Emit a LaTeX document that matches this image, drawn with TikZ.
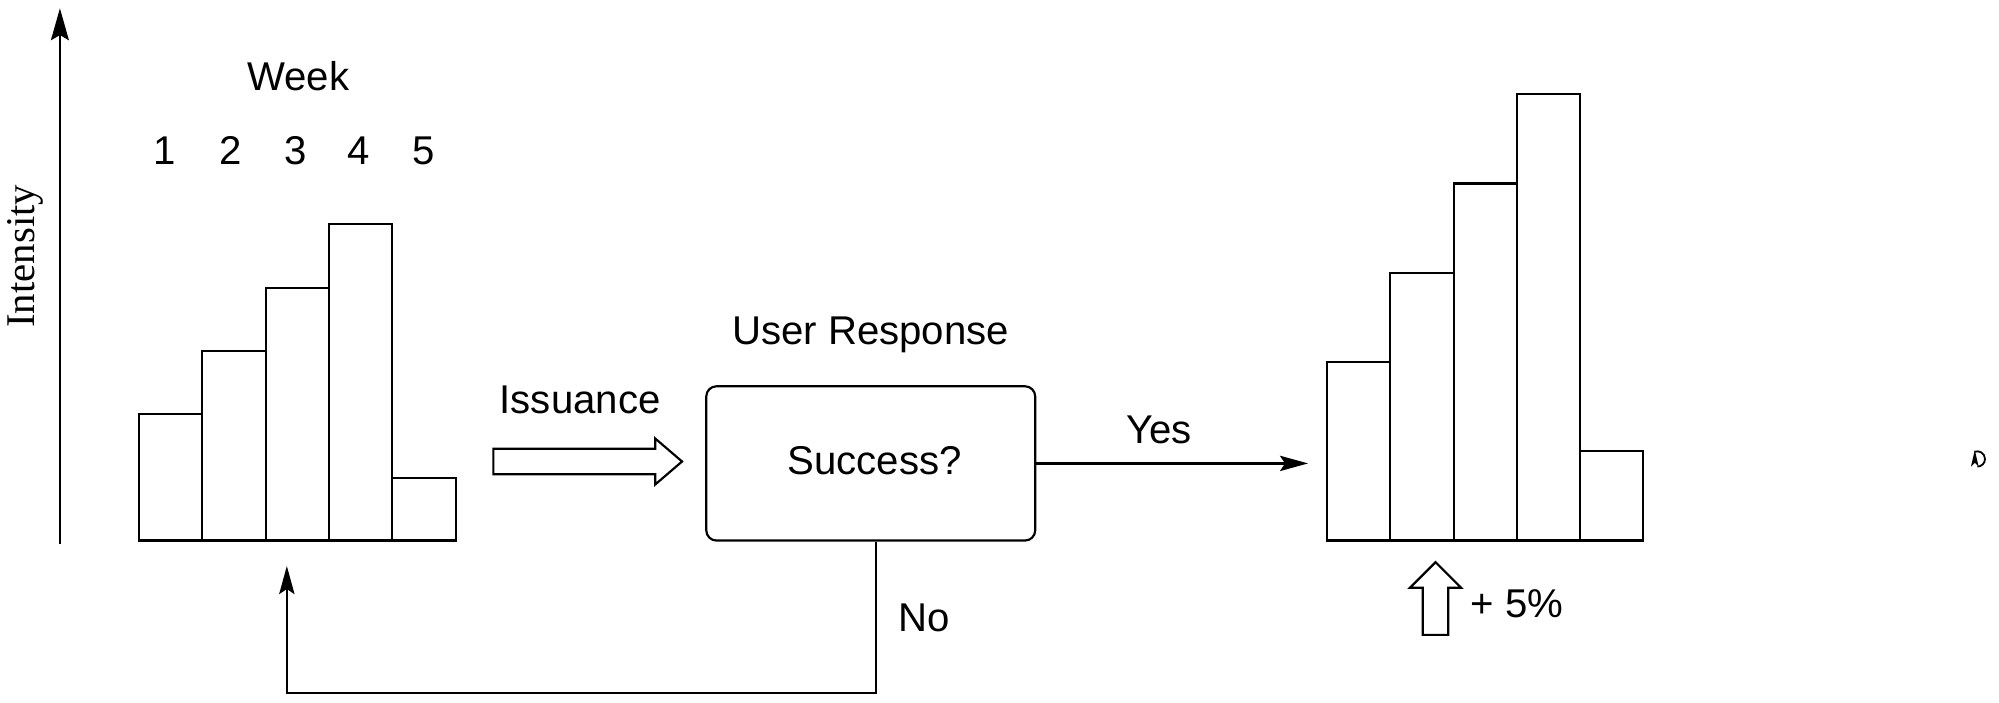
\documentclass[tikz,border=0pt]{standalone}
\usepackage{fontspec}
\setmainfont{Liberation Sans}
\newfontfamily\tnr{Liberation Serif}
\usetikzlibrary{arrows.meta}
\begin{document}
\begin{tikzpicture}[x=1pt,y=-1pt, line width=1.7pt, line join=miter,
  lbl/.style={inner sep=0pt, text height=22.5pt, text depth=0pt, font=\fontsize{31.5}{36}\selectfont},
  bar/.style={draw, line width=1.7pt},
  tip/.style={-{Stealth[length=22pt,width=12pt,inset=4pt]}},
  hollow/.style={draw, line width=1.7pt, fill=white},
  decision/.style={draw, rounded corners=8pt, minimum width=258pt, minimum height=121pt, inner sep=0pt, line width=1.7pt}]
\useasboundingbox (0,0) rectangle (1568,551);

% axis
\coordinate (ax0) at (47,427);
\coordinate (ax1) at (47,6.5);
\draw[line width=2pt, -{Stealth[length=25pt,width=14pt,inset=4pt]}] (ax0) -- (ax1);
\node[rotate=90, inner sep=0pt, font=\tnr\fontsize{32}{36}\selectfont] (intensity) at (20,201) {Intensity};

% left histogram
\foreach \i/\h in {0/325,1/275,2/226,3/176,4/375}
  \draw[bar] ({109+49.7*\i},424) rectangle ({109+49.7*(\i+1)},\h);
\node[lbl] (week) at (234,60) {Week};
\foreach \i/\x in {1/129,2/181,3/232,4/281,5/332}
  \node[lbl] (n\i) at (\x,118) {\i};

% issuance
\node[lbl] (issuance) at (455,313) {Issuance};
\draw[hollow] (387,352) -- (514,352) -- (514,344) -- (535,362) -- (514,380) -- (514,372) -- (387,372) -- cycle;

% decision box
\node[decision] (box) at (683,363.5) {};
\node[lbl] (success) at (686,361) {Success?};
\node[lbl] (user) at (683,259) {User Response};

% yes
\coordinate (yesend) at (1026,363.5);
\draw[tip] (box.east) -- (yesend);
\node[lbl] (yes) at (909,337) {Yes};

% no
\coordinate (noend) at (225,444);
\draw[tip] ([xshift=4pt]box.south) -- ++(0,119) -| (noend);
\node[lbl] (no) at (725,484) {No};

% right histogram
\foreach \i/\h in {0/284,1/214,2/144,3/74,4/354}
  \draw[bar] ({1041+49.6*\i},424) rectangle ({1041+49.6*(\i+1)},\h);

% up arrow
\draw[hollow] (1116,498) -- (1116,461) -- (1106,461) -- (1126,441) -- (1146,461) -- (1136,461) -- (1136,498) -- cycle;
\node[lbl] (plus) at (1190,473) {+ 5\%};

% stray mark
\fill (1546,366) -- (1549,353) -- (1552,366) -- (1549,363) -- cycle;
\draw[line width=1.4pt] (1551,366) arc[start angle=-90,end angle=110,radius=6pt];
\end{tikzpicture}
\end{document}
